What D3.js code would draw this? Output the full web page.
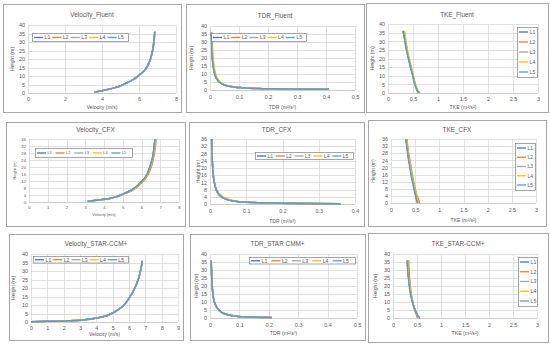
<!DOCTYPE html>
<html lang="en">
<head>
  <meta charset="UTF-8">
  <title>Velocity / TDR / TKE profiles</title>
  <script src="https://d3js.org/d3.v7.min.js"></script>
  <style>
    body {
      margin: 0;
      padding: 0;
      background: white;
    }
    text {
      font-family: "Liberation Sans", Arial, sans-serif;
      fill: #595959;
    }
  </style>
</head>
<body>
  <script>
    // series names and Excel default colours
    const lineNames = ["L1", "L2", "L3", "L4", "L5"];
    const lineColors = ["#4472C4", "#ED7D31", "#A5A5A5", "#FFC000", "#5B9BD5"];

    // Velocity_Fluent
    const velFluentH = [0.5, 1, 2, 3, 4, 6, 8, 10, 14, 18, 22, 26, 30, 36];
    const velFluent = [
      [3.6, 3.85, 4.3, 4.65, 4.95, 5.35, 5.7, 5.95, 6.35, 6.55, 6.67, 6.75, 6.8, 6.85],
      [3.6, 3.86, 4.31, 4.66, 4.96, 5.36, 5.71, 5.96, 6.36, 6.56, 6.68, 6.76, 6.81, 6.86],
      [3.6, 3.85, 4.3, 4.65, 4.95, 5.35, 5.7, 5.95, 6.35, 6.55, 6.67, 6.75, 6.8, 6.85],
      [3.61, 3.86, 4.31, 4.66, 4.96, 5.36, 5.71, 5.96, 6.36, 6.56, 6.68, 6.76, 6.81, 6.86],
      [3.6, 3.85, 4.3, 4.65, 4.95, 5.35, 5.7, 5.95, 6.35, 6.55, 6.67, 6.75, 6.8, 6.85]
    ];

    // TDR_Fluent
    const tdrFluentH = [0.4, 0.6, 0.8, 1, 1.5, 2, 3, 4, 5, 7.5, 10, 15, 20, 25, 30, 36];
    const tdrFluent = [
      [0.41, 0.28, 0.2, 0.16, 0.105, 0.078, 0.052, 0.04, 0.032, 0.021, 0.016, 0.011, 0.008, 0.0065, 0.0055, 0.0045],
      [0.41, 0.28, 0.2, 0.16, 0.106, 0.079, 0.053, 0.041, 0.033, 0.022, 0.017, 0.012, 0.009, 0.007, 0.006, 0.005],
      [0.41, 0.28, 0.2, 0.16, 0.105, 0.078, 0.052, 0.04, 0.032, 0.021, 0.016, 0.011, 0.008, 0.0065, 0.0055, 0.0045],
      [0.41, 0.28, 0.2, 0.16, 0.108, 0.081, 0.056, 0.044, 0.036, 0.025, 0.02, 0.014, 0.011, 0.009, 0.008, 0.007],
      [0.41, 0.28, 0.2, 0.16, 0.105, 0.078, 0.052, 0.04, 0.032, 0.021, 0.016, 0.011, 0.008, 0.0065, 0.0055, 0.0045]
    ];

    // TKE_Fluent
    const tkeFluentH = [0.2, 0.6, 1, 2, 5, 10, 15, 20, 25, 30, 36];
    const tkeFluent = [
      [0.64, 0.61, 0.59, 0.58, 0.54, 0.5, 0.45, 0.41, 0.37, 0.34, 0.3],
      [0.64, 0.61, 0.6, 0.58, 0.545, 0.5, 0.46, 0.42, 0.38, 0.35, 0.32],
      [0.63, 0.61, 0.59, 0.58, 0.54, 0.5, 0.455, 0.415, 0.375, 0.345, 0.31],
      [0.64, 0.62, 0.6, 0.59, 0.55, 0.51, 0.465, 0.425, 0.39, 0.36, 0.335],
      [0.63, 0.6, 0.59, 0.575, 0.535, 0.495, 0.45, 0.41, 0.37, 0.34, 0.305]
    ];

    // Velocity_CFX
    const velCfxH = [0.4, 1, 2, 3, 4.5, 7, 10, 13, 16, 20, 24, 28, 32, 36];
    const velCfx = [
      [3.12, 3.6, 4.3, 4.65, 5.0, 5.5, 5.85, 6.12, 6.3, 6.45, 6.56, 6.63, 6.68, 6.72],
      [3.14, 3.63, 4.33, 4.69, 5.05, 5.56, 5.92, 6.19, 6.37, 6.52, 6.62, 6.69, 6.74, 6.78],
      [3.12, 3.6, 4.3, 4.65, 5.0, 5.5, 5.85, 6.12, 6.3, 6.45, 6.56, 6.63, 6.68, 6.72],
      [3.13, 3.61, 4.31, 4.67, 5.02, 5.52, 5.88, 6.15, 6.33, 6.48, 6.59, 6.66, 6.71, 6.75],
      [3.12, 3.6, 4.3, 4.65, 5.0, 5.5, 5.85, 6.12, 6.3, 6.45, 6.56, 6.63, 6.68, 6.72]
    ];

    // TDR_CFX
    const tdrCfxH = [0.2, 0.3, 0.5, 0.75, 1, 1.5, 2, 3, 4, 6, 8, 12, 16, 20, 28, 36];
    const tdrCfx = [
      [0.36, 0.27, 0.18, 0.13, 0.1, 0.07, 0.055, 0.04, 0.031, 0.022, 0.017, 0.012, 0.009, 0.0075, 0.0055, 0.0045],
      [0.36, 0.27, 0.18, 0.135, 0.105, 0.075, 0.06, 0.045, 0.035, 0.024, 0.018, 0.012, 0.009, 0.0075, 0.0055, 0.0045],
      [0.36, 0.27, 0.18, 0.13, 0.1, 0.07, 0.055, 0.04, 0.031, 0.022, 0.017, 0.012, 0.009, 0.0075, 0.0055, 0.0045],
      [0.36, 0.27, 0.18, 0.132, 0.102, 0.072, 0.057, 0.042, 0.033, 0.023, 0.017, 0.012, 0.009, 0.0075, 0.0055, 0.0045],
      [0.36, 0.27, 0.18, 0.13, 0.1, 0.07, 0.055, 0.04, 0.031, 0.022, 0.017, 0.012, 0.009, 0.0075, 0.0055, 0.0045]
    ];

    // TKE_CFX
    const tkeCfxH = [0, 2, 4, 8, 12, 16, 20, 24, 28, 32, 36];
    const tkeCfx = [
      [0.55, 0.53, 0.51, 0.48, 0.45, 0.42, 0.4, 0.37, 0.35, 0.33, 0.31],
      [0.59, 0.57, 0.54, 0.5, 0.47, 0.44, 0.415, 0.39, 0.365, 0.345, 0.33],
      [0.56, 0.54, 0.52, 0.485, 0.455, 0.425, 0.4, 0.375, 0.355, 0.335, 0.315],
      [0.57, 0.55, 0.53, 0.49, 0.46, 0.43, 0.405, 0.38, 0.36, 0.34, 0.32],
      [0.55, 0.53, 0.51, 0.475, 0.445, 0.415, 0.39, 0.365, 0.345, 0.325, 0.305]
    ];

    // Velocity_STAR-CCM+
    const velStarH = [0.2, 0.4, 0.6, 0.9, 1.4, 2.2, 3.2, 5, 7, 10, 14, 18, 22, 26, 30, 36];
    const velStar = [
      [0, 1, 2, 2.8, 3.4, 3.95, 4.45, 4.95, 5.3, 5.7, 6.0, 6.25, 6.45, 6.6, 6.7, 6.82],
      [0, 1, 2, 2.8, 3.4, 3.95, 4.45, 4.95, 5.3, 5.7, 6.0, 6.25, 6.45, 6.6, 6.7, 6.82],
      [0, 1, 2, 2.8, 3.4, 3.95, 4.45, 4.95, 5.3, 5.7, 6.0, 6.25, 6.45, 6.6, 6.7, 6.82],
      [0, 1, 2, 2.8, 3.4, 3.95, 4.45, 4.95, 5.3, 5.7, 6.0, 6.25, 6.45, 6.6, 6.7, 6.82],
      [0, 1, 2, 2.8, 3.4, 3.95, 4.45, 4.95, 5.3, 5.7, 6.0, 6.25, 6.45, 6.6, 6.7, 6.82]
    ];

    // TDR_STAR CMM+
    const tdrStarH = [0.3, 0.5, 0.75, 1, 1.5, 2, 3, 4, 5, 7, 10, 15, 20, 25, 30, 36];
    const tdrStar = [
      [0.21, 0.15, 0.115, 0.095, 0.075, 0.06, 0.045, 0.036, 0.03, 0.022, 0.015, 0.01, 0.0075, 0.006, 0.005, 0.004],
      [0.21, 0.15, 0.116, 0.096, 0.076, 0.061, 0.046, 0.037, 0.031, 0.022, 0.015, 0.01, 0.0075, 0.006, 0.005, 0.004],
      [0.21, 0.15, 0.115, 0.095, 0.075, 0.06, 0.045, 0.036, 0.03, 0.022, 0.015, 0.01, 0.0075, 0.006, 0.005, 0.004],
      [0.21, 0.15, 0.115, 0.095, 0.075, 0.06, 0.045, 0.036, 0.03, 0.022, 0.015, 0.01, 0.0075, 0.006, 0.005, 0.004],
      [0.21, 0.15, 0.115, 0.095, 0.075, 0.06, 0.045, 0.036, 0.03, 0.022, 0.015, 0.01, 0.0075, 0.006, 0.005, 0.004]
    ];

    // TKE_STAR-CCM+
    const tkeStarH = [0, 1, 2.5, 5, 10, 15, 20, 25, 30, 36];
    const tkeStar = [
      [0.56, 0.53, 0.5, 0.46, 0.41, 0.37, 0.345, 0.325, 0.31, 0.3],
      [0.51, 0.5, 0.48, 0.45, 0.41, 0.38, 0.36, 0.345, 0.335, 0.325],
      [0.55, 0.52, 0.49, 0.455, 0.405, 0.37, 0.345, 0.325, 0.31, 0.3],
      [0.55, 0.525, 0.495, 0.46, 0.41, 0.375, 0.35, 0.33, 0.315, 0.305],
      [0.56, 0.53, 0.5, 0.46, 0.405, 0.365, 0.34, 0.32, 0.305, 0.295]
    ];

    // tick labels
    const vel8Ticks = [0, 1, 2, 3, 4, 5, 6, 7, 8];
    const vel8EvenTicks = [0, 2, 4, 6, 8];
    const vel9Ticks = [0, 1, 2, 3, 4, 5, 6, 7, 8, 9];
    const tdr5Ticks = [0, 0.1, 0.2, 0.3, 0.4, 0.5];
    const tdr4Ticks = [0, 0.1, 0.2, 0.3, 0.4];
    const tkeTicks = [0, 0.5, 1, 1.5, 2, 2.5, 3];
    const h40Ticks = [0, 5, 10, 15, 20, 25, 30, 35, 40];
    const h36Ticks = [0, 4, 8, 12, 16, 20, 24, 28, 32, 36];

    const width = 550;
    const height = 348;

    const svg = d3.select("body").append("svg")
      .attr("width", width)
      .attr("height", height);

    const panels = [
      { title: "Velocity_Fluent", xLabel: "Velocity (m/s)", box: [3, 4, 178, 108],
        plot: [28, 176, 25, 93], xTicks: vel8EvenTicks, yTicks: h40Ticks,
        heights: velFluentH, series: velFluent, titleY: 17, xTickY: 101, xLabelY: 109, yLabelX: 12,
        legend: { h: true, box: [32, 33, 96, 8] }, fs: 5.5 },
      { title: "TDR_Fluent", xLabel: "TDR (m\u00b2/s\u00b3)", box: [186, 4, 178, 108],
        plot: [210, 355, 26, 90], xTicks: tdr5Ticks, yTicks: h40Ticks,
        heights: tdrFluentH, series: tdrFluent, titleY: 18, xTickY: 99, xLabelY: 109, yLabelX: 191,
        legend: { h: true, box: [211, 33, 95, 8] }, fs: 5.5 },
      { title: "TKE_Fluent", xLabel: "TKE (m\u00b2/s\u00b2)", box: [366, 3, 182, 109],
        plot: [388, 538, 24, 93], xTicks: tkeTicks, yTicks: h40Ticks,
        heights: tkeFluentH, series: tkeFluent, titleY: 17, xTickY: 101, xLabelY: 109, yLabelX: 372,
        legend: { h: false, box: [517, 27, 20, 50] }, fs: 5.5 },

      { title: "Velocity_CFX", xLabel: "Velocity (m/s)", box: [6, 122, 179, 104],
        plot: [29, 179, 139, 202], xTicks: vel8Ticks, yTicks: h36Ticks,
        heights: velCfxH, series: velCfx, titleY: 132, xTickY: 209, xLabelY: 216, yLabelX: 15,
        legend: { h: true, box: [35, 148, 97, 9] }, fs: 4.2 },
      { title: "TDR_CFX", xLabel: "TDR (m\u00b2/s\u00b3)", box: [189, 122, 175, 104],
        plot: [210, 355, 139, 204], xTicks: tdr4Ticks, yTicks: h36Ticks,
        heights: tdrCfxH, series: tdrCfx, titleY: 132, xTickY: 213, xLabelY: 223, yLabelX: 198,
        legend: { h: true, box: [255, 152, 98, 7] }, fs: 5.3 },
      { title: "TKE_CFX", xLabel: "TKE (m\u00b2/s\u00b2)", box: [368, 120, 178, 106],
        plot: [391, 536, 139, 203], xTicks: tkeTicks, yTicks: h36Ticks,
        heights: tkeCfxH, series: tkeCfx, titleY: 132, xTickY: 212, xLabelY: 222, yLabelX: 373,
        legend: { h: false, box: [515, 143, 20, 47] }, fs: 5.3 },

      { title: "Velocity_STAR-CCM+", xLabel: "Velocity (m/s)", box: [9, 234, 174, 106],
        plot: [31, 178, 254, 322], xTicks: vel9Ticks, yTicks: h40Ticks,
        heights: velStarH, series: velStar, titleY: 246, xTickY: 330, xLabelY: 336, yLabelX: 13,
        legend: { h: true, box: [33, 256, 95, 6.5] }, fs: 5.5 },
      { title: "TDR_STAR CMM+", xLabel: "TDR (m\u00b2/s\u00b3)", box: [190, 234, 175, 106],
        plot: [210, 357, 254, 318], xTicks: tdr5Ticks, yTicks: h40Ticks,
        heights: tdrStarH, series: tdrStar, titleY: 246, xTickY: 327, xLabelY: 335, yLabelX: 196,
        legend: { h: true, box: [249, 257, 106, 6.5] }, fs: 5.5 },
      { title: "TKE_STAR-CCM+", xLabel: "TKE (m\u00b2/s\u00b2)", box: [368, 233, 180, 109],
        plot: [393, 537, 254, 318], xTicks: tkeTicks, yTicks: h40Ticks,
        heights: tkeStarH, series: tkeStar, titleY: 246, xTickY: 327, xLabelY: 335, yLabelX: 375,
        legend: { h: false, box: [518, 257, 19, 49] }, fs: 5.5 }
    ];

    panels.forEach(drawPanel);

    function drawPanel(p) {
      const g = svg.append("g");
      const [bx, by, bw, bh] = p.box;
      const [pl, pr, pt, pb] = p.plot;

      // chart frame
      g.append("rect")
        .attr("x", bx + 0.5).attr("y", by + 0.5)
        .attr("width", bw).attr("height", bh)
        .attr("fill", "white")
        .attr("stroke", "#a6a6a6");

      const x = d3.scaleLinear()
        .domain([p.xTicks[0], p.xTicks[p.xTicks.length - 1]])
        .range([pl, pr]);
      const y = d3.scaleLinear()
        .domain([p.yTicks[0], p.yTicks[p.yTicks.length - 1]])
        .range([pb, pt]);

      // gridlines
      g.append("g").selectAll("line")
        .data(p.yTicks)
        .enter().append("line")
        .attr("x1", pl).attr("x2", pr)
        .attr("y1", d => Math.round(y(d)) + 0.5)
        .attr("y2", d => Math.round(y(d)) + 0.5)
        .attr("stroke", d => d === 0 ? "#bfbfbf" : "#d9d9d9")
        .attr("stroke-width", 0.8);
      g.append("g").selectAll("line")
        .data(p.xTicks)
        .enter().append("line")
        .attr("y1", pt).attr("y2", pb)
        .attr("x1", d => Math.round(x(d)) + 0.5)
        .attr("x2", d => Math.round(x(d)) + 0.5)
        .attr("stroke", "#d9d9d9")
        .attr("stroke-width", 0.8);

      // axes (labels only, Excel style)
      const xAxis = g.append("g")
        .attr("transform", `translate(0,${p.xTickY})`)
        .call(d3.axisBottom(x).tickValues(p.xTicks).tickSize(0).tickPadding(0).tickFormat(d => String(d)));
      xAxis.select(".domain").remove();
      xAxis.selectAll("text")
        .attr("dy", 0)
        .style("font-size", p.fs + "px")
        .style("font-family", "'Liberation Sans', Arial, sans-serif")
        .attr("fill", "#595959");

      const yAxis = g.append("g")
        .attr("transform", `translate(${pl - 3},0)`)
        .call(d3.axisLeft(y).tickValues(p.yTicks).tickSize(0).tickPadding(0));
      yAxis.select(".domain").remove();
      yAxis.selectAll("text")
        .style("font-size", p.fs + "px")
        .style("font-family", "'Liberation Sans', Arial, sans-serif")
        .attr("fill", "#595959");

      // titles
      g.append("text")
        .attr("x", bx + bw / 2)
        .attr("y", p.titleY)
        .attr("text-anchor", "middle")
        .style("font-size", "6.4px")
        .text(p.title);

      g.append("text")
        .attr("x", (pl + pr) / 2)
        .attr("y", p.xLabelY)
        .attr("text-anchor", "middle")
        .style("font-size", (p.fs - 0.3) + "px")
        .text(p.xLabel);

      g.append("text")
        .attr("transform", `translate(${p.yLabelX},${(pt + pb) / 2}) rotate(-90)`)
        .attr("text-anchor", "middle")
        .attr("dy", "0.35em")
        .style("font-size", (p.fs - 0.3) + "px")
        .text("Height (m)");

      // profile lines, L1 first so L5 ends on top
      const line = d3.line()
        .x(d => x(d[0]))
        .y(d => y(d[1]))
        .curve(d3.curveMonotoneY);

      p.series.forEach((vals, i) => {
        const pts = vals.map((v, k) => [v, p.heights[k]]);
        g.append("path")
          .datum(pts)
          .attr("fill", "none")
          .attr("stroke", lineColors[i])
          .attr("stroke-width", 1.5)
          .attr("d", line);
      });

      // legend
      const [lx, ly, lw, lh] = p.legend.box;
      const lg = g.append("g");
      lg.append("rect")
        .attr("x", lx + 0.5).attr("y", ly + 0.5)
        .attr("width", lw).attr("height", lh)
        .attr("fill", "white")
        .attr("stroke", "#7f7f7f")
        .attr("stroke-width", 0.7);

      lineNames.forEach((name, i) => {
        let ex, ey;
        if (p.legend.h) {
          ex = lx + 2 + i * (lw - 4) / 5;
          ey = ly + lh / 2 + 0.5;
        } else {
          ex = lx + 2;
          ey = ly + 5 + i * (lh - 10) / 4;
        }
        lg.append("line")
          .attr("x1", ex).attr("x2", ex + 9)
          .attr("y1", ey).attr("y2", ey)
          .attr("stroke", lineColors[i])
          .attr("stroke-width", 1.3);
        lg.append("text")
          .attr("x", ex + 10.5)
          .attr("y", ey)
          .attr("dy", "0.35em")
          .style("font-size", (p.fs - 0.3) + "px")
          .text(name);
      });
    }
  </script>
</body>
</html>
